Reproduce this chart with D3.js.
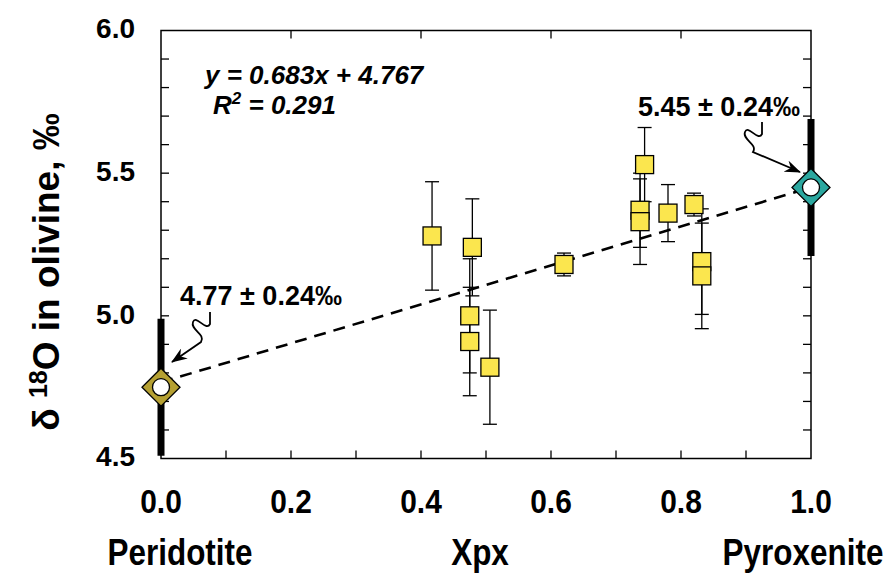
<!DOCTYPE html>
<html>
<head>
<meta charset="utf-8">
<script src="https://cdn.jsdelivr.net/npm/d3@7"></script>
<style>
  body { margin: 0; background: #fff; }
  text { font-family: "Liberation Sans", Arial, sans-serif; font-weight: bold; }
</style>
</head>
<body>
<div id="chart"></div>
<script>
const width = 894, height = 576,
  margin = { left: 161, top: 30.5, right: 83, bottom: 117.5 };

// samples: mole fraction of pyroxenite vs. olivine d18O
const xpx = [0.417, 0.479, 0.475, 0.475, 0.506, 0.620, 0.744, 0.737, 0.737, 0.780, 0.820, 0.832, 0.832];
const d18O = [5.28, 5.24, 5.00, 4.91, 4.82, 5.18, 5.53, 5.37, 5.33, 5.36, 5.39, 5.19, 5.14];
const err = [0.19, 0.17, 0.20, 0.19, 0.20, 0.04, 0.13, 0.13, 0.15, 0.10, 0.04, 0.185, 0.185];

// end members
const endX = [0, 1];
const endY = [4.75, 5.45];
const endErr = [0.24, 0.24];
const endColors = ['#b5a032', '#2ba79f'];
const endLabels = ['4.77 ± 0.24‰', '5.45 ± 0.24‰'];

// regression
const slope = 0.683, intercept = 4.767, rsq = 0.291;

const xTicks = [0, 0.2, 0.4, 0.6, 0.8, 1.0];
const yTicks = [4.5, 5.0, 5.5, 6.0];

const x = d3.scaleLinear().domain([0, 1]).range([margin.left, width - margin.right]);
const y = d3.scaleLinear().domain([4.5, 6]).range([height - margin.bottom, margin.top]);

const svg = d3.select('#chart').append('svg')
  .attr('width', width).attr('height', height);

const defs = svg.append('defs');
defs.append('marker')
  .attr('id', 'arrow')
  .attr('viewBox', '0 0 16 12')
  .attr('refX', 15).attr('refY', 6)
  .attr('markerWidth', 16).attr('markerHeight', 12)
  .attr('markerUnits', 'userSpaceOnUse')
  .attr('orient', 'auto')
  .append('path')
  .attr('d', 'M0,0 L16,6 L0,12 L5,6 Z')
  .attr('fill', '#000');

// frame
const x0 = x.range()[0], x1 = x.range()[1], y0 = y.range()[0], y1 = y.range()[1];
svg.append('rect')
  .attr('x', x0).attr('y', y1)
  .attr('width', x1 - x0).attr('height', y0 - y1)
  .attr('fill', 'none').attr('stroke', '#000').attr('stroke-width', 1.5);

// inward ticks
const tickLen = 8;
const yMinor = d3.range(4.6, 5.95, 0.1);
const xMinor = d3.range(0.1, 0.95, 0.1);
const ticks = svg.append('g').attr('stroke', '#000').attr('stroke-width', 1.3);
ticks.selectAll('.yl').data(yMinor).enter().append('line')
  .attr('x1', x0).attr('x2', x0 + tickLen)
  .attr('y1', d => y(d)).attr('y2', d => y(d));
ticks.selectAll('.yr').data(yMinor).enter().append('line')
  .attr('x1', x1).attr('x2', x1 - tickLen)
  .attr('y1', d => y(d)).attr('y2', d => y(d));
ticks.selectAll('.xb').data(xMinor).enter().append('line')
  .attr('x1', d => x(d)).attr('x2', d => x(d))
  .attr('y1', y0).attr('y2', y0 - tickLen);
ticks.selectAll('.xt').data([0.2, 0.4, 0.6, 0.8]).enter().append('line')
  .attr('x1', d => x(d)).attr('x2', d => x(d))
  .attr('y1', y1).attr('y2', y1 + tickLen);

// tick labels
svg.selectAll('.ylab').data(yTicks).enter().append('text')
  .attr('x', 135).attr('y', d => y(d) - 2)
  .attr('dy', '0.35em')
  .attr('text-anchor', 'end')
  .attr('font-size', 28)
  .text(d => d.toFixed(1));

// condensed look: scale glyphs horizontally
const narrowText = (sel, sx) => sel
  .attr('transform', d => `translate(${d.px},${d.py}) scale(${sx},1)`)
  .attr('text-anchor', 'middle');

narrowText(svg.selectAll('.xlab')
  .data(xTicks.map(v => ({ v, px: x(v), py: 513 })))
  .enter().append('text'), 0.88)
  .attr('font-size', 34)
  .text(d => d.v.toFixed(1));

// axis titles
const bottomLabels = ['Peridotite', 'Xpx', 'Pyroxenite'];
const bottomPos = [180, 480, 803];
narrowText(svg.selectAll('.blab')
  .data(bottomLabels.map((t, i) => ({ t, px: bottomPos[i], py: 565 })))
  .enter().append('text'), 0.85)
  .attr('font-size', 37)
  .text(d => d.t);

const yTitle = svg.append('text')
  .attr('transform', `translate(59,272) rotate(-90)`)
  .attr('text-anchor', 'middle')
  .attr('font-size', 37);
yTitle.append('tspan').text('δ ');
yTitle.append('tspan').attr('font-size', 25).attr('dy', -12).text('18');
yTitle.append('tspan').attr('dy', 12).text('O in olivine, ‰');

// regression line
svg.append('line')
  .attr('x1', x(0)).attr('y1', y(intercept))
  .attr('x2', x(1)).attr('y2', y(slope + intercept))
  .attr('stroke', '#000').attr('stroke-width', 2.6)
  .attr('stroke-dasharray', '12,8');

// error bars
const cap = 7;
const eb = svg.append('g').attr('stroke', '#000').attr('stroke-width', 1.3);
xpx.forEach((d, i) => {
  eb.append('line')
    .attr('x1', x(d)).attr('x2', x(d))
    .attr('y1', y(d18O[i] - err[i])).attr('y2', y(d18O[i] + err[i]));
  [d18O[i] - err[i], d18O[i] + err[i]].forEach(v => {
    eb.append('line')
      .attr('x1', x(d) - cap).attr('x2', x(d) + cap)
      .attr('y1', y(v)).attr('y2', y(v));
  });
});

// sample squares
const sq = 18;
svg.selectAll('.pt').data(xpx).enter().append('rect')
  .attr('x', d => x(d) - sq / 2)
  .attr('y', (d, i) => y(d18O[i]) - sq / 2)
  .attr('width', sq).attr('height', sq)
  .attr('fill', '#fbe64e').attr('stroke', '#000').attr('stroke-width', 1.3);

// end-member bars and diamonds
endX.forEach((d, i) => {
  svg.append('line')
    .attr('x1', x(d)).attr('x2', x(d))
    .attr('y1', y(endY[i] - endErr[i])).attr('y2', y(endY[i] + endErr[i]))
    .attr('stroke', '#000').attr('stroke-width', 7);
  const cx = x(d), cy = y(endY[i]), r = 19;
  svg.append('path')
    .attr('d', `M${cx - r},${cy} L${cx},${cy - r} L${cx + r},${cy} L${cx},${cy + r} Z`)
    .attr('fill', endColors[i]).attr('stroke', '#000').attr('stroke-width', 1.3);
  svg.append('circle')
    .attr('cx', cx).attr('cy', cy).attr('r', 8.5)
    .attr('fill', '#fff').attr('stroke', '#000').attr('stroke-width', 1.3);
});

// annotations
const annX = [180, 638], annY = [305, 116];
endLabels.forEach((t, i) => {
  svg.append('text')
    .attr('x', annX[i]).attr('y', annY[i])
    .attr('font-size', 27)
    .text(t);
});

// squiggle arrows: start point below text, tip next to diamond
const squiggle = (sx, sy, tx, ty) => {
  const p = d3.path();
  p.moveTo(sx, sy);
  p.lineTo(sx, sy + 12);
  p.bezierCurveTo(sx - 4, sy + 20, sx - 14, sy + 2, sx - 17, sy + 10);
  p.bezierCurveTo(sx - 20, sy + 18, sx - 4, sy + 22, sx - 9, sy + 30);
  p.lineTo(tx, ty);
  return p.toString();
};
const arrows = [[210, 312, 172, 362], [762, 122, 800, 172]];
arrows.forEach(a => {
  svg.append('path')
    .attr('d', squiggle(...a))
    .attr('fill', 'none').attr('stroke', '#000').attr('stroke-width', 1.8)
    .attr('marker-end', 'url(#arrow)');
});

// regression equation
const eq = svg.append('g').attr('font-style', 'italic').attr('font-size', 26);
eq.append('text').attr('x', 205).attr('y', 84).text(`y = ${slope}x + ${intercept}`);
const r2 = eq.append('text').attr('x', 213).attr('y', 114);
r2.append('tspan').text('R');
r2.append('tspan').attr('font-size', 17).attr('dy', -10).text('2');
r2.append('tspan').attr('dy', 10).text(` = ${rsq}`);
</script>
</body>
</html>
